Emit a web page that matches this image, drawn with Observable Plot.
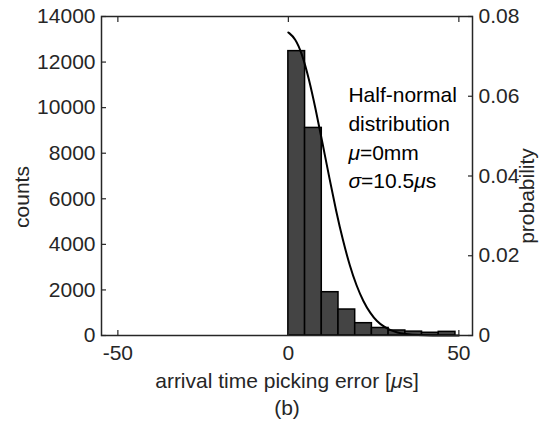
<!DOCTYPE html>
<html><head><meta charset="utf-8">
<script src="https://cdn.jsdelivr.net/npm/d3@7"></script>
<script src="https://cdn.jsdelivr.net/npm/@observablehq/plot@0.6"></script>
<style>
html,body{margin:0;padding:0;background:#fff;}
svg{font-family:"Liberation Sans",Arial,sans-serif;}
</style>
</head><body>
<div id="chart"></div>
<script>
// histogram bins (arrival time picking error, µs)
const binLeft = [0, 4.9, 9.8, 14.7, 19.6, 24.5, 29.4, 34.3, 39.2, 44.1];
const binWidth = 4.9;
const counts = [12480, 9110, 1900, 1140, 540, 330, 220, 170, 120, 160];

// fitted half-normal curve (probability)
const curveX = [0, 2, 4, 6, 8, 10, 12, 14, 16, 18, 20, 22, 24, 26, 28, 30, 32, 34, 36, 40, 45, 50];
const curveP = [0.0760, 0.0746, 0.0707, 0.0645, 0.0568, 0.0483, 0.0396, 0.0312, 0.0238, 0.0175, 0.0124, 0.0085, 0.0056, 0.0035, 0.0022, 0.0013, 0.0007, 0.0004, 0.0002, 0.00005, 0, 0];

const xTicks = [-50, 0, 50];
const countTicks = [0, 2000, 4000, 6000, 8000, 10000, 12000, 14000];
const probTicks = [0, 0.02, 0.04, 0.06, 0.08];
const probTickLabels = ["0", "0.02", "0.04", "0.06", "0.08"];

const countMax = 14000, probMax = 0.08;
const ratio = countMax / probMax;

const bars = binLeft.map((x, i) => ({x1: x, x2: x + binWidth, y: counts[i]}));
const curve = curveX.map((x, i) => ({x, y: curveP[i] * ratio}));
const probTickPos = probTicks.map(p => p * ratio);

const ink = "#262626";
const fs = 21;
const tk = 5;
const blank = () => "";

const chart = Plot.plot({
  width: 551,
  height: 428,
  marginLeft: 101,
  marginRight: 79,
  marginTop: 16,
  marginBottom: 93,
  style: {fontFamily: "'Liberation Sans', Arial, sans-serif", fontSize: fs + "px", color: ink, background: "#fff"},
  x: {domain: [-54.8, 54], ticks: xTicks},
  y: {domain: [0, countMax]},
  marks: [
    Plot.rectY(bars, {x1: "x1", x2: "x2", y: "y", fill: "#444", stroke: "#000", strokeWidth: 1.5}),
    Plot.line(curve, {x: "x", y: "y", stroke: "#000", strokeWidth: 2, curve: "basis"}),
    Plot.frame({stroke: ink, strokeWidth: 1.5}),
    // inward tick marks
    Plot.axisX({anchor: "bottom", ticks: xTicks, tickSize: tk, tickFormat: blank, label: null, dy: -tk, stroke: ink, strokeWidth: 1.2}),
    Plot.axisX({anchor: "top", ticks: xTicks, tickSize: tk, tickFormat: blank, label: null, dy: tk, stroke: ink, strokeWidth: 1.2}),
    Plot.axisY({anchor: "left", ticks: countTicks, tickSize: tk, tickFormat: blank, label: null, dx: tk, stroke: ink, strokeWidth: 1.2}),
    Plot.axisY({anchor: "right", ticks: probTickPos, tickSize: tk, tickFormat: blank, label: null, dx: -tk, stroke: ink, strokeWidth: 1.2}),
    // tick labels
    Plot.axisX({anchor: "bottom", ticks: xTicks, tickFormat: d => String(d), tickSize: 0, tickPadding: 10, label: null, fontSize: fs, fill: ink}),
    Plot.axisY({anchor: "left", ticks: countTicks, tickFormat: d => String(d), tickSize: 0, tickPadding: 6, label: null, fontSize: fs, fill: ink}),
    Plot.axisY({anchor: "right", ticks: probTickPos, tickFormat: (d, i) => probTickLabels[i], tickSize: 0, tickPadding: 6, label: null, fontSize: fs, fill: ink}),
    // axis titles
    Plot.text(["counts"], {frameAnchor: "left", textAnchor: "middle", rotate: -90, dx: -79, dy: 21, fontSize: fs, fill: ink}),
    Plot.text(["probability"], {frameAnchor: "right", textAnchor: "middle", rotate: -90, dx: 55, dy: 20, fontSize: fs, fill: ink}),
    Plot.text(["arrival time picking error [\u03bcs]"], {frameAnchor: "bottom", dy: 52, fontSize: fs, fill: ink}),
    Plot.text(["(b)"], {frameAnchor: "bottom", dy: 79, fontSize: fs, fill: ink}),
    Plot.text(["Half-normal\ndistribution\n\u03bc=0mm\n\u03c3=10.5\u03bcs"], {x: [17.6], y: [8750], textAnchor: "start", lineAnchor: "middle", lineHeight: 1.36, fontSize: fs, fill: "#000"})
  ]
});
document.getElementById("chart").appendChild(chart);

// italicise Greek letters (as MATLAB's TeX interpreter does)
chart.querySelectorAll("text, tspan").forEach(el => {
  if (el.children.length === 0 && /[\u03bc\u03c3]/.test(el.textContent)) {
    const parts = el.textContent.split(/([\u03bc\u03c3])/);
    el.textContent = "";
    parts.forEach(p => {
      if (!p) return;
      const t = document.createElementNS("http://www.w3.org/2000/svg", "tspan");
      t.textContent = p;
      if (/[\u03bc\u03c3]/.test(p)) t.setAttribute("font-style", "italic");
      el.appendChild(t);
    });
  }
});
</script>
</body></html>
